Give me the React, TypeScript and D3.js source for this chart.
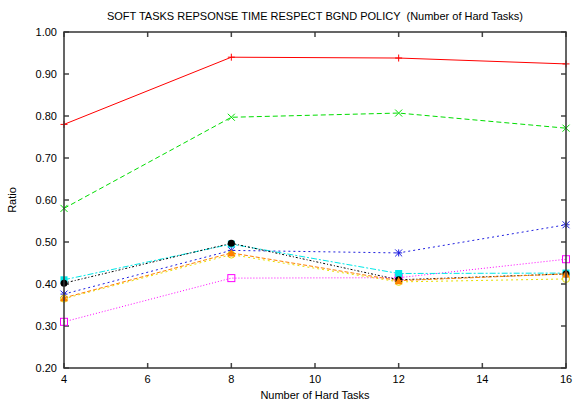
import React from "react";
import * as d3 from "d3";

const hardTasks = [4, 8, 12, 16];
const xTicks = [4, 6, 8, 10, 12, 14, 16];
const yTicks = [0.2, 0.3, 0.4, 0.5, 0.6, 0.7, 0.8, 0.9, 1.0];

const redSeries = [0.78, 0.94, 0.938, 0.924];
const greenSeries = [0.58, 0.797, 0.807, 0.771];
const blueSeries = [0.376, 0.48, 0.474, 0.541];
const magentaSeries = [0.31, 0.414, 0.415, 0.459];
const cyanSeries = [0.41, 0.495, 0.425, 0.426];
const yellowSeries = [0.365, 0.47, 0.405, 0.412];
const blackSeries = [0.402, 0.497, 0.41, 0.424];
const orangeSeries = [0.367, 0.474, 0.408, 0.424];

type Marker = "plus" | "cross" | "star" | "openSquare" | "square" | "openCircle" | "circle" | "triangle";

const series: { values: number[]; color: string; dash: string; marker: Marker }[] = [
  { values: redSeries, color: "#ff0000", dash: "none", marker: "plus" },
  { values: greenSeries, color: "#00dd00", dash: "5,3", marker: "cross" },
  { values: blueSeries, color: "#2020e0", dash: "2,3", marker: "star" },
  { values: magentaSeries, color: "#ff00ff", dash: "1,2", marker: "openSquare" },
  { values: yellowSeries, color: "#e8e000", dash: "2,3", marker: "openCircle" },
  { values: cyanSeries, color: "#00e8e8", dash: "6,2,2,2", marker: "square" },
  { values: blackSeries, color: "#000000", dash: "2,2,1,2", marker: "circle" },
  { values: orangeSeries, color: "#ff8000", dash: "4,2", marker: "triangle" },
];

const margin = { left: 64, right: 15, top: 32, bottom: 37 };
const W = 581;
const H = 405;

const x = d3.scaleLinear().domain([4, 16]).range([margin.left, W - margin.right]);
const y = d3.scaleLinear().domain([0.2, 1.0]).range([H - margin.bottom, margin.top]);

function MarkerShape({ kind, cx, cy, color }: { kind: Marker; cx: number; cy: number; color: string }) {
  const s = 3.5;
  switch (kind) {
    case "plus":
      return <path d={`M${cx - s},${cy}H${cx + s}M${cx},${cy - s}V${cy + s}`} stroke={color} strokeWidth={1} />;
    case "cross":
      return <path d={`M${cx - s},${cy - s}L${cx + s},${cy + s}M${cx - s},${cy + s}L${cx + s},${cy - s}`} stroke={color} strokeWidth={1} />;
    case "star":
      return (
        <path
          d={`M${cx - s},${cy}H${cx + s}M${cx},${cy - s}V${cy + s}M${cx - s},${cy - s}L${cx + s},${cy + s}M${cx - s},${cy + s}L${cx + s},${cy - s}`}
          stroke={color}
          strokeWidth={1}
        />
      );
    case "openSquare":
      return <rect x={cx - s} y={cy - s} width={2 * s} height={2 * s} fill="none" stroke={color} strokeWidth={1} />;
    case "square":
      return <rect x={cx - s} y={cy - s} width={2 * s} height={2 * s} fill={color} />;
    case "openCircle":
      return <circle cx={cx} cy={cy} r={s} fill="none" stroke={color} strokeWidth={1} />;
    case "circle":
      return <circle cx={cx} cy={cy} r={s} fill={color} />;
    case "triangle":
      return <path d={`M${cx},${cy - s - 0.5}L${cx + s + 0.5},${cy + s}L${cx - s - 0.5},${cy + s}Z`} fill={color} />;
  }
}

export default function App() {
  const line = d3
    .line<number>()
    .x((_, i) => x(hardTasks[i]))
    .y((d) => y(d));
  const x0 = x(4);
  const x1 = x(16);
  const y0 = y(0.2);
  const y1 = y(1.0);
  const font = "'Liberation Sans', Arial, sans-serif";
  return (
    <svg width={W} height={H} style={{ position: "absolute", left: 0, top: 0 }} fontFamily={font}>
      <rect width={W} height={H} fill="#fff" />
      <text x={(x0 + x1) / 2} y={20} textAnchor="middle" fontSize={11} fill="#000" style={{ whiteSpace: "pre" }}>
        {"SOFT TASKS REPSONSE TIME RESPECT BGND POLICY  (Number of Hard Tasks)"}
      </text>
      {yTicks.map((t) => (
        <g key={"y" + t}>
          <line x1={x0} x2={x0 + 5} y1={y(t)} y2={y(t)} stroke="#444" strokeWidth={1.5} />
          <line x1={x1} x2={x1 - 5} y1={y(t)} y2={y(t)} stroke="#444" strokeWidth={1.5} />
          <text x={x0 - 7} y={y(t) + 4} textAnchor="end" fontSize={11} fill="#000">
            {t.toFixed(2)}
          </text>
        </g>
      ))}
      {xTicks.map((t) => (
        <g key={"x" + t}>
          <line x1={x(t)} x2={x(t)} y1={y0} y2={y0 - 5} stroke="#444" strokeWidth={1.5} />
          <line x1={x(t)} x2={x(t)} y1={y1} y2={y1 + 5} stroke="#444" strokeWidth={1.5} />
          <text x={x(t)} y={y0 + 15} textAnchor="middle" fontSize={11} fill="#000">
            {t}
          </text>
        </g>
      ))}
      <text x={(x0 + x1) / 2} y={399} textAnchor="middle" fontSize={11} fill="#000">
        Number of Hard Tasks
      </text>
      <text transform={`translate(16,${(y0 + y1) / 2}) rotate(-90)`} textAnchor="middle" fontSize={11} fill="#000">
        Ratio
      </text>
      {series.map((s, i) => (
        <g key={i}>
          <path d={line(s.values) ?? ""} fill="none" stroke={s.color} strokeWidth={1} strokeDasharray={s.dash} />
          {s.values.map((v, j) => (
            <MarkerShape key={j} kind={s.marker} cx={x(hardTasks[j])} cy={y(v)} color={s.color} />
          ))}
        </g>
      ))}
      <rect x={x0} y={y1} width={x1 - x0} height={y0 - y1} fill="none" stroke="#333" strokeWidth={1.5} />
    </svg>
  );
}
